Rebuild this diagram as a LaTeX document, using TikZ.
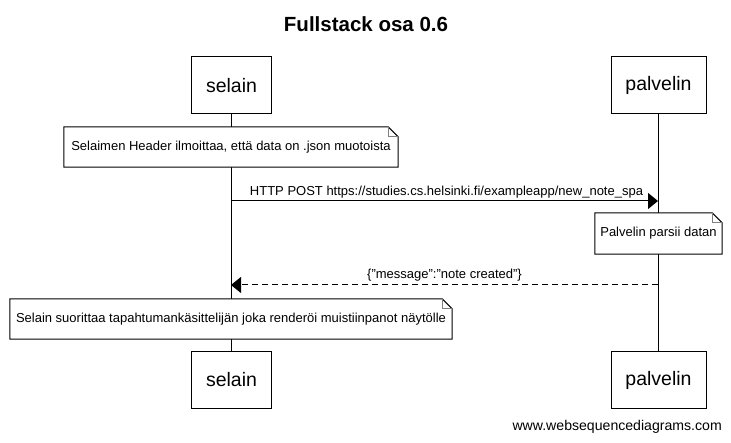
\documentclass[tikz,border=0pt]{standalone}
\usepackage{fontspec}
\setmainfont{Liberation Sans}
\usetikzlibrary{arrows.meta}
\tikzset{
  actor/.style={draw=black, line width=1pt, fill=white, minimum width=80pt, minimum height=57pt, inner sep=0pt, font=\fontsize{19.5}{22}\selectfont},
  actorwide/.style={actor, minimum width=95pt},
  notebox/.style={draw=none, minimum height=40pt, inner sep=0pt, font=\fontsize{13}{15}\selectfont},
  msglabel/.style={font=\fontsize{13}{15}\selectfont, inner sep=0pt, anchor=base},
  lifeline/.style={line width=1pt, black},
  msg/.style={line width=1pt, -{Triangle[length=10pt,width=16pt]}},
  reply/.style={msg, dash pattern=on 6pt off 4pt},
}
\newcommand{\notedraw}[1]{%
  \fill[white] (#1.south west) -- (#1.north west) -- ([xshift=-10pt]#1.north east) -- ([yshift=-10pt]#1.north east) -- (#1.south east) -- cycle;
  \draw[line width=1pt] (#1.south west) -- (#1.north west) -- ([xshift=-10pt]#1.north east) -- ([yshift=-10pt]#1.north east) -- (#1.south east) -- cycle;
  \draw[line width=1pt, gray] ([xshift=-10pt]#1.north east) -- ([xshift=-10pt,yshift=-10pt]#1.north east) -- ([yshift=-10pt]#1.north east);
}
\begin{document}
\begin{tikzpicture}[x=1pt,y=-1pt]
\useasboundingbox (0,0) rectangle (731,443);
\fill[white] (0,0) rectangle (731,443);
\node[font=\bfseries\fontsize{20.5}{24}\selectfont] (title) at (366,24) {Fullstack osa 0.6};
% actors
\node[actor] (selTop) at (231.5,85.5) {selain};
\node[actorwide] (palTop) at (658.5,85.5) {palvelin};
\node[actor] (selBot) at (231.5,380) {selain};
\node[actorwide] (palBot) at (658.5,380) {palvelin};
% lifelines
\draw[lifeline] (selTop.south) -- (selBot.north);
\draw[lifeline] (palTop.south) -- (palBot.north);
% note 1
\node[notebox, minimum width=334pt] (n1) at (231,147) {Selaimen Header ilmoittaa, että data on .json muotoista};
\notedraw{n1}
\node[notebox, minimum width=334pt] at (231,147) {Selaimen Header ilmoittaa, että data on .json muotoista};
% message 1
\coordinate (m1s) at (231,201);
\coordinate (m1e) at (658,201);
\draw[msg] (m1s) -- (m1e);
\node[msglabel] (l1) at (446.5,196) {HTTP POST https://studies.cs.helsinki.fi/exampleapp/new\_note\_spa};
% note 2
\node[notebox, minimum width=127pt, minimum height=41pt] (n2) at (658.5,233.5) {Palvelin parsii datan};
\notedraw{n2}
\node[notebox, minimum width=127pt, minimum height=41pt] at (658.5,233.5) {Palvelin parsii datan};
% message 2
\coordinate (m2s) at (658,285);
\coordinate (m2e) at (231,285);
\draw[reply] (m2s) -- (m2e);
\node[msglabel] (l2) at (444.5,279) {\{"message":"note created"\}};
% note 3
\node[notebox, minimum width=442pt] (n3) at (231,319) {Selain suorittaa tapahtumankäsittelijän joka renderöi muistiinpanot näytölle};
\notedraw{n3}
\node[notebox, minimum width=442pt] at (231,319) {Selain suorittaa tapahtumankäsittelijän joka renderöi muistiinpanot näytölle};
% watermark
\node[font=\fontsize{14.1}{16}\selectfont, anchor=east, inner sep=0pt] (wm) at (722,427) {www.websequencediagrams.com};
\end{tikzpicture}
\end{document}
